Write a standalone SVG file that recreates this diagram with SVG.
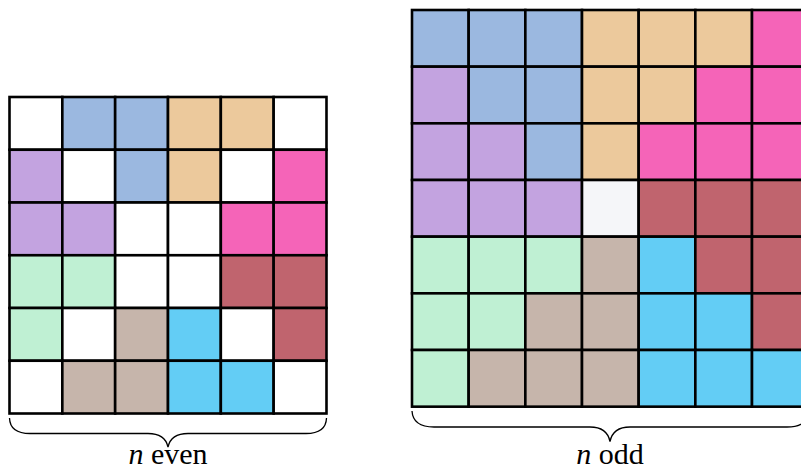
<svg xmlns="http://www.w3.org/2000/svg" width="801" height="471" viewBox="0 0 801 471">
<style>
.c rect{stroke:#000;stroke-width:2.6}
.W{fill:#ffffff}.B{fill:#9bb8e0}.T{fill:#ecc99c}.P{fill:#f564b8}.U{fill:#c3a3e0}.R{fill:#c0646e}.G{fill:#bff0d3}.N{fill:#c6b5ab}.C{fill:#63cdf5}.L{fill:#f5f6f9}
.br{fill:none;stroke:#000;stroke-width:1.3}
text{font-family:"Liberation Serif",serif;font-size:30px;fill:#000}
</style>
<rect width="801" height="471" fill="#fff"/>
<g id="grid-even" class="c">
<rect class="W" x="9.5" y="97" width="52.83" height="52.75"/>
<rect class="B" x="62.33" y="97" width="52.83" height="52.75"/>
<rect class="B" x="115.16" y="97" width="52.83" height="52.75"/>
<rect class="T" x="168" y="97" width="52.83" height="52.75"/>
<rect class="T" x="220.83" y="97" width="52.83" height="52.75"/>
<rect class="W" x="273.66" y="97" width="52.83" height="52.75"/>
<rect class="U" x="9.5" y="149.75" width="52.83" height="52.75"/>
<rect class="W" x="62.33" y="149.75" width="52.83" height="52.75"/>
<rect class="B" x="115.16" y="149.75" width="52.83" height="52.75"/>
<rect class="T" x="168" y="149.75" width="52.83" height="52.75"/>
<rect class="W" x="220.83" y="149.75" width="52.83" height="52.75"/>
<rect class="P" x="273.66" y="149.75" width="52.83" height="52.75"/>
<rect class="U" x="9.5" y="202.5" width="52.83" height="52.75"/>
<rect class="U" x="62.33" y="202.5" width="52.83" height="52.75"/>
<rect class="W" x="115.16" y="202.5" width="52.83" height="52.75"/>
<rect class="W" x="168" y="202.5" width="52.83" height="52.75"/>
<rect class="P" x="220.83" y="202.5" width="52.83" height="52.75"/>
<rect class="P" x="273.66" y="202.5" width="52.83" height="52.75"/>
<rect class="G" x="9.5" y="255.25" width="52.83" height="52.75"/>
<rect class="G" x="62.33" y="255.25" width="52.83" height="52.75"/>
<rect class="W" x="115.16" y="255.25" width="52.83" height="52.75"/>
<rect class="W" x="168" y="255.25" width="52.83" height="52.75"/>
<rect class="R" x="220.83" y="255.25" width="52.83" height="52.75"/>
<rect class="R" x="273.66" y="255.25" width="52.83" height="52.75"/>
<rect class="G" x="9.5" y="308" width="52.83" height="52.75"/>
<rect class="W" x="62.33" y="308" width="52.83" height="52.75"/>
<rect class="N" x="115.16" y="308" width="52.83" height="52.75"/>
<rect class="C" x="168" y="308" width="52.83" height="52.75"/>
<rect class="W" x="220.83" y="308" width="52.83" height="52.75"/>
<rect class="R" x="273.66" y="308" width="52.83" height="52.75"/>
<rect class="W" x="9.5" y="360.75" width="52.83" height="52.75"/>
<rect class="N" x="62.33" y="360.75" width="52.83" height="52.75"/>
<rect class="N" x="115.16" y="360.75" width="52.83" height="52.75"/>
<rect class="C" x="168" y="360.75" width="52.83" height="52.75"/>
<rect class="C" x="220.83" y="360.75" width="52.83" height="52.75"/>
<rect class="W" x="273.66" y="360.75" width="52.83" height="52.75"/>
</g>
<g id="grid-odd" class="c">
<rect class="B" x="412" y="10" width="56.67" height="56.67"/>
<rect class="B" x="468.67" y="10" width="56.67" height="56.67"/>
<rect class="B" x="525.34" y="10" width="56.67" height="56.67"/>
<rect class="T" x="582" y="10" width="56.67" height="56.67"/>
<rect class="T" x="638.67" y="10" width="56.67" height="56.67"/>
<rect class="T" x="695.34" y="10" width="56.67" height="56.67"/>
<rect class="P" x="752" y="10" width="56.67" height="56.67"/>
<rect class="U" x="412" y="66.67" width="56.67" height="56.67"/>
<rect class="B" x="468.67" y="66.67" width="56.67" height="56.67"/>
<rect class="B" x="525.34" y="66.67" width="56.67" height="56.67"/>
<rect class="T" x="582" y="66.67" width="56.67" height="56.67"/>
<rect class="T" x="638.67" y="66.67" width="56.67" height="56.67"/>
<rect class="P" x="695.34" y="66.67" width="56.67" height="56.67"/>
<rect class="P" x="752" y="66.67" width="56.67" height="56.67"/>
<rect class="U" x="412" y="123.34" width="56.67" height="56.67"/>
<rect class="U" x="468.67" y="123.34" width="56.67" height="56.67"/>
<rect class="B" x="525.34" y="123.34" width="56.67" height="56.67"/>
<rect class="T" x="582" y="123.34" width="56.67" height="56.67"/>
<rect class="P" x="638.67" y="123.34" width="56.67" height="56.67"/>
<rect class="P" x="695.34" y="123.34" width="56.67" height="56.67"/>
<rect class="P" x="752" y="123.34" width="56.67" height="56.67"/>
<rect class="U" x="412" y="180" width="56.67" height="56.67"/>
<rect class="U" x="468.67" y="180" width="56.67" height="56.67"/>
<rect class="U" x="525.34" y="180" width="56.67" height="56.67"/>
<rect class="L" x="582" y="180" width="56.67" height="56.67"/>
<rect class="R" x="638.67" y="180" width="56.67" height="56.67"/>
<rect class="R" x="695.34" y="180" width="56.67" height="56.67"/>
<rect class="R" x="752" y="180" width="56.67" height="56.67"/>
<rect class="G" x="412" y="236.67" width="56.67" height="56.67"/>
<rect class="G" x="468.67" y="236.67" width="56.67" height="56.67"/>
<rect class="G" x="525.34" y="236.67" width="56.67" height="56.67"/>
<rect class="N" x="582" y="236.67" width="56.67" height="56.67"/>
<rect class="C" x="638.67" y="236.67" width="56.67" height="56.67"/>
<rect class="R" x="695.34" y="236.67" width="56.67" height="56.67"/>
<rect class="R" x="752" y="236.67" width="56.67" height="56.67"/>
<rect class="G" x="412" y="293.34" width="56.67" height="56.67"/>
<rect class="G" x="468.67" y="293.34" width="56.67" height="56.67"/>
<rect class="N" x="525.34" y="293.34" width="56.67" height="56.67"/>
<rect class="N" x="582" y="293.34" width="56.67" height="56.67"/>
<rect class="C" x="638.67" y="293.34" width="56.67" height="56.67"/>
<rect class="C" x="695.34" y="293.34" width="56.67" height="56.67"/>
<rect class="R" x="752" y="293.34" width="56.67" height="56.67"/>
<rect class="G" x="412" y="350" width="56.67" height="56.67"/>
<rect class="N" x="468.67" y="350" width="56.67" height="56.67"/>
<rect class="N" x="525.34" y="350" width="56.67" height="56.67"/>
<rect class="N" x="582" y="350" width="56.67" height="56.67"/>
<rect class="C" x="638.67" y="350" width="56.67" height="56.67"/>
<rect class="C" x="695.34" y="350" width="56.67" height="56.67"/>
<rect class="C" x="752" y="350" width="56.67" height="56.67"/>
</g>
<g id="brace-even">
<path class="br" d="M9.5 418 Q10 433.5 30 433.5 L148 433.5 Q165 433.5 168 447 Q171 433.5 188 433.5 L306 433.5 Q326 433.5 326.5 418"/>
<text x="168" y="464" text-anchor="middle"><tspan font-style="italic">n</tspan> even</text>
</g>
<g id="brace-odd">
<path class="br" d="M412 411 Q413 427 434 427 L590 427 Q607 427 610 441.5 Q613 427 630 427 L787 427 Q808 427 808.7 411"/>
<text x="610" y="464" text-anchor="middle"><tspan font-style="italic">n</tspan> odd</text>
</g>
</svg>
